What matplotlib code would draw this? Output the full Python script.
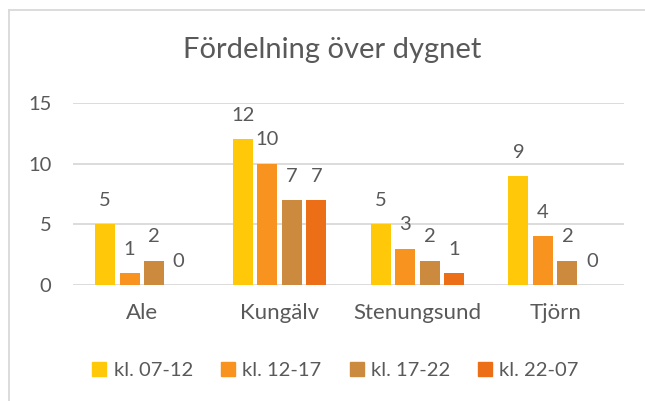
import numpy as np
import matplotlib.pyplot as plt
from matplotlib.lines import Line2D

categories = ['Ale', 'Kungälv', 'Stenungsund', 'Tjörn']
series_names = ['kl. 07-12', 'kl. 12-17', 'kl. 17-22', 'kl. 22-07']
values = [
    [5, 12, 5, 9],   # kl. 07-12
    [1, 10, 3, 4],   # kl. 12-17
    [2, 7, 2, 2],    # kl. 17-22
    [0, 7, 1, 0],    # kl. 22-07
]
colors = ['#FFC90A', '#F7931E', '#CC8A3E', '#EC6E17']
yticks = [0, 5, 10, 15]

plt.rcParams['font.family'] = ['Lato', 'DejaVu Sans']
text_color = '#595959'

fig = plt.figure(figsize=(6.45, 4.01), dpi=100)
ax = fig.add_axes([73 / 645, 1 - 285 / 401, (624 - 73) / 645, (285 - 103) / 401])

x = np.arange(len(categories))
pitch = 0.178
bw = 0.145
for i, (name, vals) in enumerate(zip(series_names, values)):
    off = (i - 1.5) * pitch
    bars = ax.bar(x + off, vals, width=bw, color=colors[i], label=name, zorder=3)
    for b, v in zip(bars, vals):
        ax.annotate(str(v), (b.get_x() + b.get_width() / 2, v), xytext=(0, 11),
                    textcoords='offset points', ha='center', va='bottom',
                    fontsize=14.5, color=text_color)

ax.set_xlim(-0.5, len(categories) - 0.5)
ax.set_ylim(0, 15)
ax.set_yticks(yticks)
ax.set_xticks(x)
ax.set_xticklabels(categories)
ax.tick_params(axis='both', length=0, labelcolor=text_color)
ax.tick_params(axis='y', pad=15.5, labelsize=14.5)
ax.tick_params(axis='x', pad=13, labelsize=16)
ax.grid(axis='y', color='#D9D9D9', linewidth=1.3, zorder=0)
for s in ax.spines.values():
    s.set_visible(False)

fig.text(332 / 645, 1 - 50 / 401, 'Fördelning över dygnet', ha='center', va='center',
         fontsize=21, color=text_color)

handles = [Line2D([], [], marker='s', linestyle='none', markersize=9.5,
                  markerfacecolor=c, markeredgecolor=c) for c in colors]
fig.legend(handles, series_names, loc='center', bbox_to_anchor=(335 / 645, 1 - 370 / 401),
           ncol=4, frameon=False, fontsize=14.5, labelcolor=text_color,
           handletextpad=0.3, columnspacing=1.35, handlelength=0.8)

# chart frame (only the left and top edges are visible in the crop)
fig.add_artist(Line2D([9 / 645, 9 / 645], [0, 1 - 10 / 401], color='#D9D9D9',
                      linewidth=1.3, transform=fig.transFigure))
fig.add_artist(Line2D([9 / 645, 1], [1 - 10 / 401, 1 - 10 / 401], color='#D9D9D9',
                      linewidth=1.3, transform=fig.transFigure))

fig.savefig('out.png', dpi=100)
